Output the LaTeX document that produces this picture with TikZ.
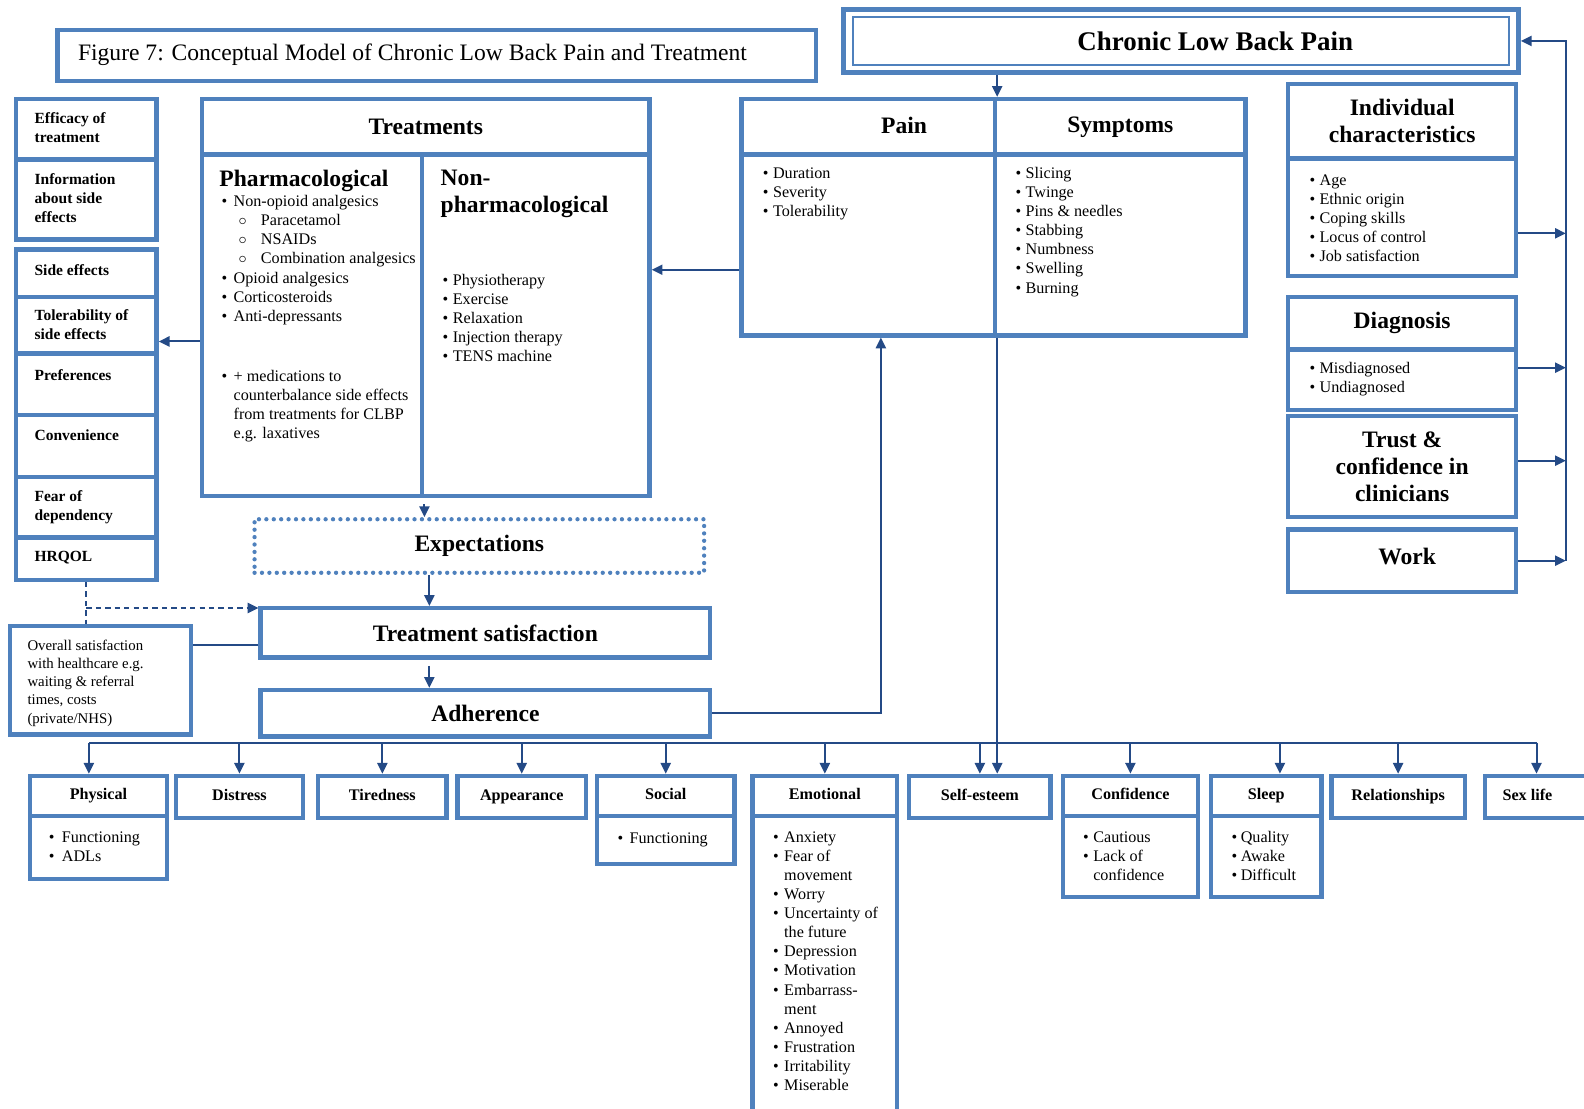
\documentclass[tikz,border=0pt]{standalone}
\usepackage{fontspec}
\setmainfont{Liberation Serif}
\usetikzlibrary{arrows.meta,positioning,fit,calc}
\definecolor{frameblue}{RGB}{79,129,189}
\definecolor{arrowblue}{RGB}{36,74,134}
\newlength{\pxu}\setlength{\pxu}{0.75pt}
\newcommand{\itm}[2][12]{\makebox[#1\pxu][l]{\textbullet}#2}
\newcommand{\cnt}[2][12]{\hspace*{#1\pxu}#2}
\newcommand{\subitm}[1]{\hspace*{17\pxu}\makebox[22\pxu][l]{$\circ$}#1}

\begin{document}
\begin{tikzpicture}[x=0.75pt, y=-0.75pt,
  frame/.style={draw=frameblue, line width=3.2pt, inner sep=0pt},
  dotbox/.style={draw=frameblue, line width=3.2pt, line cap=round,
                 dash pattern=on 0pt off 5.5pt, inner sep=0pt},
  hd/.style={font=\fontsize{17.5}{20}\selectfont\bfseries, align=center},
  sub/.style={font=\fontsize{12}{14}\selectfont\bfseries, text height=8.4pt, text depth=2.6pt},
  lst/.style={font=\fontsize{12}{14.2}\selectfont, align=left, inner sep=0pt, anchor=north west},
  lbl/.style={font=\fontsize{11.5}{14.2}\selectfont\bfseries, align=left, inner sep=0pt, anchor=north west},
  link/.style={draw=arrowblue, line width=1.5pt},
  arr/.style={link, -{Triangle[length=8pt,width=7.5pt]}}
]
\useasboundingbox (0,0) rectangle (1568,1097);

% title and main condition
\node[frame, fit={(57,30)(808,80)}] (title) {};
\node[font=\fontsize{17.5}{20}\selectfont, anchor=west, inner sep=0pt] (titletxt) at (77,54)
  {Figure 7: Conceptual Model of Chronic Low Back Pain and Treatment};
\node[frame, line width=3.8pt, fit={(835,9)(1503,72)}] (clbp) {};
\node[draw=frameblue, line width=1.6pt, inner sep=0pt, fit={(844,17)(1494,64)}] (clbpin) {};
\node[hd, font=\fontsize{20}{24}\selectfont\bfseries] (clbptxt) at (1203,41) {Chronic Low Back Pain};

% left column
\node[frame, fit={(16,98)(155,158)}] (eff) {};
\node[lbl] (efft) at (34,109) {\strut Efficacy of\\treatment};
\node[frame, fit={(16,158)(155,237)}] (info) {};
\node[lbl] (infot) at (34,169) {\strut Information\\about side\\effects};
\node[frame, fit={(16,247)(155,294)}] (sidee) {};
\node[lbl] (sideet) at (34,259) {\strut Side effects};
\node[frame, fit={(16,294)(155,350)}] (toler) {};
\node[lbl] (tolert) at (34,304) {\strut Tolerability of\\side effects};
\node[frame, fit={(16,350)(155,411)}] (pref) {};
\node[lbl] (preft) at (34,363) {\strut Preferences};
\node[frame, fit={(16,411)(155,472)}] (conv) {};
\node[lbl] (convt) at (34,423) {\strut Convenience};
\node[frame, fit={(16,472)(155,532)}] (fear) {};
\node[lbl] (feart) at (34,483) {\strut Fear of\\dependency};
\node[frame, fit={(16,532)(155,574)}] (hrqol) {};
\node[lbl] (hrqolt) at (34,542) {\strut HRQOL};

% treatments
\node[frame, fit={(200,98)(643,153)}] (treatH) {};
\node[hd] (treatT) at (treatH) {Treatments};
\node[frame, fit={(200,153)(418,491)}] (treatL) {};
\node[frame, fit={(418,153)(643,491)}] (treatR) {};
\node[hd, anchor=west, inner sep=0pt] (pharmt) at (217,179) {Pharmacological};
\node[lst] (pharml) at (219,191) {\strut\itm{Non-opioid analgesics}\\ \subitm{Paracetamol}\\
  \subitm{NSAIDs}\\ \subitm{Combination analgesics}\\ \itm{Opioid analgesics}\\
  \itm{Corticosteroids}\\ \itm{Anti-depressants}};
\node[lst] (medsl) at (219,364) {\strut\itm{+ medications to}\\ \cnt{counterbalance side effects}\\
  \cnt{from treatments for CLBP}\\ \cnt{e.g. laxatives}};
\node[hd, align=left, anchor=north west, inner sep=0pt] (nonpht) at (436,168) {Non-\\pharmacological};
\node[lst] (nonphl) at (438,269) {\strut\itm[10]{Physiotherapy}\\ \itm[10]{Exercise}\\
  \itm[10]{Relaxation}\\ \itm[10]{Injection therapy}\\ \itm[10]{TENS machine}};

% pain and symptoms
\node[frame, fit={(734,98)(985,153)}] (painH) {};
\node[hd] (paint) at (895,124) {Pain};
\node[frame, fit={(985,98)(1233,153)}] (sympH) {};
\node[hd] (sympt) at (sympH) {Symptoms};
\node[frame, fit={(734,153)(985,332)}] (painB) {};
\node[frame, fit={(985,153)(1233,332)}] (sympB) {};
\node[lst] (painl) at (755,163) {\strut\itm[10]{Duration}\\ \itm[10]{Severity}\\ \itm[10]{Tolerability}};
\node[lst] (sympl) at (1005,163) {\strut\itm[10]{Slicing}\\ \itm[10]{Twinge}\\ \itm[10]{Pins \& needles}\\
  \itm[10]{Stabbing}\\ \itm[10]{Numbness}\\ \itm[10]{Swelling}\\ \itm[10]{Burning}};

% right column
\node[frame, fit={(1275,83)(1501,157)}] (indivH) {};
\node[hd] (indivT) at (indivH) {Individual\\characteristics};
\node[frame, fit={(1275,157)(1501,273)}] (indivB) {};
\node[lst] (indivl) at (1296,170) {\strut\itm[10]{Age}\\ \itm[10]{Ethnic origin}\\ \itm[10]{Coping skills}\\
  \itm[10]{Locus of control}\\ \itm[10]{Job satisfaction}};
\node[frame, fit={(1275,294)(1501,346)}] (diagH) {};
\node[hd] (diagT) at (diagH) {Diagnosis};
\node[frame, fit={(1275,346)(1501,406)}] (diagB) {};
\node[lst] (diagl) at (1296,356) {\strut\itm[10]{Misdiagnosed}\\ \itm[10]{Undiagnosed}};
\node[frame, fit={(1275,412)(1501,512)}] (trust) {};
\node[hd] (trustT) at (trust) {Trust \&\\confidence in\\clinicians};
\node[frame, fit={(1275,524)(1501,586)}] (work) {};
\node[hd] (workT) at (1393,551) {Work};

% satisfaction chain
\node[dotbox, fit={(252,514)(697,567)}] (expect) {};
\node[hd] (expectT) at (expect) {Expectations};
\node[frame, fit={(258,602)(703,651)}] (tsat) {};
\node[hd] (tsatT) at (tsat) {Treatment satisfaction};
\node[frame, fit={(258,683)(703,729)}] (adh) {};
\node[hd] (adhT) at (adh) {Adherence};
\node[frame, fit={(10,620)(189,727)}] (overall) {};
\node[lst, font=\fontsize{11}{13.5}\selectfont] (overallt) at (27,631)
  {\strut Overall satisfaction\\with healthcare e.g.\\waiting \& referral\\times, costs\\(private/NHS)};

% outcome domains
\node[frame, fit={(30,768)(165,808)}] (physH) {};
\node[sub] (physT) at (physH) {Physical};
\node[frame, fit={(30,808)(165,870)}] (physB) {};
\node[lst] (physl) at (48,820) {\strut\itm[13]{Functioning}\\ \itm[13]{ADLs}};
\node[frame, fit={(174,768)(300,810)}] (distress) {};
\node[sub] (distressT) at (distress) {Distress};
\node[frame, fit={(315,768)(442,810)}] (tired) {};
\node[sub] (tiredT) at (tired) {Tiredness};
\node[frame, fit={(453,768)(580,810)}] (appear) {};
\node[sub] (appearT) at (appear) {Appearance};
\node[frame, fit={(591,768)(727,808)}] (socH) {};
\node[sub] (socT) at (socH) {Social};
\node[frame, fit={(591,808)(727,855)}] (socB) {};
\node[lst] (socl) at (611,821) {\strut\itm{Functioning}};
\node[frame, fit={(745,768)(888,808)}] (emoH) {};
\node[sub] (emoT) at (emoH) {Emotional};
\node[frame, fit={(745,808)(888,1104)}] (emoB) {};
\node[lst] (emol) at (765,820) {\strut\itm[11]{Anxiety}\\ \itm[11]{Fear of}\\ \cnt[11]{movement}\\
  \itm[11]{Worry}\\ \itm[11]{Uncertainty of}\\ \cnt[11]{the future}\\ \itm[11]{Depression}\\
  \itm[11]{Motivation}\\ \itm[11]{Embarrass-}\\ \cnt[11]{ment}\\ \itm[11]{Annoyed}\\
  \itm[11]{Frustration}\\ \itm[11]{Irritability}\\ \itm[11]{Miserable}};
\node[frame, fit={(900,768)(1040,810)}] (self) {};
\node[sub] (selfT) at (self) {Self-esteem};
\node[frame, fit={(1052,768)(1186,808)}] (confH) {};
\node[sub] (confT) at (confH) {Confidence};
\node[frame, fit={(1052,808)(1186,888)}] (confB) {};
\node[lst] (confl) at (1072,820) {\strut\itm[10]{Cautious}\\ \itm[10]{Lack of}\\ \cnt[10]{confidence}};
\node[frame, fit={(1199,768)(1308,808)}] (sleepH) {};
\node[sub] (sleepT) at (sleepH) {Sleep};
\node[frame, fit={(1199,808)(1308,888)}] (sleepB) {};
\node[lst] (sleepl) at (1219,820) {\strut\itm[9]{Quality}\\ \itm[9]{Awake}\\ \itm[9]{Difficult}};
\node[frame, fit={(1318,768)(1450,810)}] (rel) {};
\node[sub] (relT) at (rel) {Relationships};
\node[frame, fit={(1470,768)(1572,810)}] (sex) {};
\node[sub] (sexT) at (1512,789) {Sex life};

% connectors
\coordinate (axis) at (425,0);
\coordinate (bus) at (0,735);
\coordinate (rbus) at (1550,0);
\coordinate (pt) at ($(painB.west)+(0,24.5)$);
\coordinate (tl) at ($(treatL.west)+(0,16)$);
\coordinate (ol) at ($(tsat.west)+(0,11.5)$);
\coordinate (ia) at ($(indivB.east)+(0,16)$);
\coordinate (da) at ($(diagB.east)+(0,-12)$);
\coordinate (ta) at ($(trust.east)+(0,-6)$);
\coordinate (pa) at ($(physH.north)+(-9.5,0)$);
\coordinate (sa) at ($(sleepH.north)+(13.5,0)$);

\draw[arr] (clbp.south -| painH.east) -- (painH.north east);
\draw[arr] (pt) -- (pt -| treatR.east);
\draw[arr] (tl) -- (tl -| toler.east);
\draw[arr] ($(treatL.south east)+(0,6)$) -- (treatL.south east |- expect.north);
\draw[arr] (expect.south -| axis) -- (tsat.north -| axis);
\draw[arr] ($(tsat.south -| axis)+(0,6)$) -- (adh.north -| axis);
\draw[link, dash pattern=on 4pt off 3pt] (hrqol.south) -- (hrqol.south |- overall.north);
\draw[arr, dash pattern=on 4pt off 3pt] ($(hrqol.south |- tsat.north west)+(0,2)$) -- ($(tsat.north west)+(0,2)$);
\draw[link] (ol) -- (ol -| overall.east);
\draw[arr] (adh.east) -| ($(painB.south)+(12.5,0)$);
\draw[arr] (painB.south east) -- (painB.south east |- self.north);

\draw[arr] (ia) -- (ia -| rbus);
\draw[arr] (da) -- (da -| rbus);
\draw[arr] (ta) -- (ta -| rbus);
\draw[arr] (work.east) -- (work.east -| rbus);
\draw[arr] (work.east -| rbus) -- (clbp.east -| rbus) -- (clbp.east);

\draw[link] (pa |- bus) -- (sex.north |- bus);
\draw[arr] (pa |- bus) -- (pa);
\draw[arr] (sa |- bus) -- (sa);
\foreach \n in {distress,tired,appear,socH,emoH,self,confH,rel,sex}
  \draw[arr] (\n.north |- bus) -- (\n.north);
\end{tikzpicture}
\end{document}
